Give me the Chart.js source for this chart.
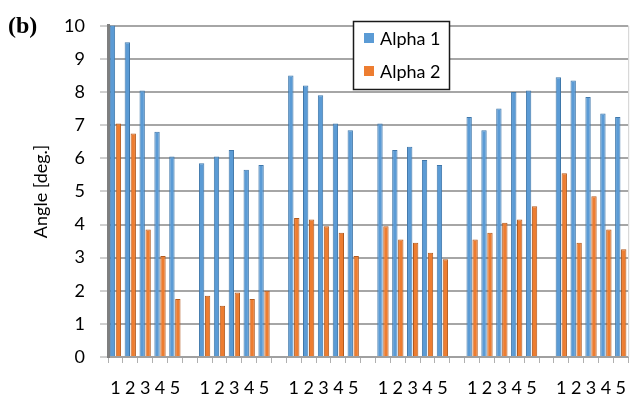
<!DOCTYPE html>
<html>
<head>
<meta charset="utf-8">
<script src="https://cdn.jsdelivr.net/npm/chart.js@4.4.1/dist/chart.umd.min.js"></script>
<style>
  html, body { margin: 0; padding: 0; background: #fff; }
  #wrap { width: 640px; height: 400px; }
</style>
</head>
<body>
<div id="wrap"><canvas id="myAngleChart" width="640" height="400"></canvas></div>
<script>
// tick labels under each group, and the groups
const groupTicks = ['1', '2', '3', '4', '5'];
const groupCount = 6;

// values, group by group
const alpha1 = [10.05, 9.5, 8.05, 6.8, 6.05,
                5.85, 6.05, 6.25, 5.65, 5.8,
                8.5, 8.2, 7.9, 7.05, 6.85,
                7.05, 6.25, 6.35, 5.95, 5.8,
                7.25, 6.85, 7.5, 8.0, 8.05,
                8.45, 8.35, 7.85, 7.35, 7.25];
const alpha2 = [7.05, 6.75, 3.85, 3.05, 1.75,
                1.85, 1.55, 1.95, 1.75, 2.0,
                4.2, 4.15, 3.95, 3.75, 3.05,
                3.95, 3.55, 3.45, 3.15, 2.95,
                3.55, 3.75, 4.05, 4.15, 4.55,
                5.55, 3.45, 4.85, 3.85, 3.25];

const yTicks = [0, 1, 2, 3, 4, 5, 6, 7, 8, 9, 10];

// one empty slot between groups
var labels = [];
var data1 = [];
var data2 = [];
for (var g = 0; g < groupCount; g++) {
  if (g > 0) {
    labels.push('');
    data1.push(null);
    data2.push(null);
  }
  for (var i = 0; i < groupTicks.length; i++) {
    labels.push(groupTicks[i]);
    data1.push(alpha1[g * 5 + i]);
    data2.push(alpha2[g * 5 + i]);
  }
}

var fontFam = 'Lato, "Open Sans", sans-serif';

// legend box and the "(b)" tag
const extras = {
  id: 'extras',
  afterDraw(chart) {
    var c = chart.ctx;
    c.save();
    c.fillStyle = '#000';
    c.font = 'bold 24px "Liberation Serif", serif';
    c.textBaseline = 'alphabetic';
    c.textAlign = 'left';
    c.fillText('(b)', 8, 33);

    var bx = 353, by = 21, bw = 96, bh = 68;
    c.fillStyle = '#fff';
    c.fillRect(bx, by, bw, bh);
    c.strokeStyle = '#1a1a1a';
    c.lineWidth = 1.5;
    c.strokeRect(bx + 0.5, by + 0.5, bw, bh);
    c.font = '18px ' + fontFam;
    c.textBaseline = 'middle';
    chart.data.datasets.forEach(function (ds, k) {
      var cy = 38 + k * 33;
      c.fillStyle = ds.backgroundColor;
      c.fillRect(364, cy - 5, 10, 10);
      c.fillStyle = '#000';
      c.fillText(ds.label, 380, cy + 1);
    });
    // faint right edge
    var a = chart.chartArea;
    c.strokeStyle = '#d0d0d0';
    c.lineWidth = 1;
    c.beginPath();
    c.moveTo(a.right + 0.5, a.top);
    c.lineTo(a.right + 0.5, a.bottom);
    c.stroke();
    c.restore();
  }
};

var ctx = document.getElementById('myAngleChart');
var myAngleChart = new Chart(ctx, {
  type: 'bar',
  data: {
    labels: labels,
    datasets: [
      {
        label: 'Alpha 1',
        data: data1,
        backgroundColor: '#5b9bd5',
        borderColor: '#3f77aa',
        borderWidth: 1
      },
      {
        label: 'Alpha 2',
        data: data2,
        backgroundColor: '#ed7d31',
        borderColor: '#b35a1d',
        borderWidth: 1
      }
    ]
  },
  options: {
    responsive: false,
    animation: false,
    layout: { padding: { top: 13, right: 2, left: 0, bottom: 0 } },
    datasets: {
      bar: { categoryPercentage: 0.8, barPercentage: 0.9, skipNull: false }
    },
    plugins: {
      legend: { display: false },
      tooltip: { enabled: false }
    },
    scales: {
      x: {
        offset: true,
        grid: {
          offset: true,
          drawOnChartArea: false,
          drawTicks: true,
          tickLength: 6,
          color: '#b0b0b0'
        },
        border: { display: true, color: '#a0a0a0', width: 2 },
        ticks: {
          autoSkip: false,
          maxRotation: 0,
          padding: 14,
          color: '#000',
          font: { family: fontFam, size: 18 }
        },
        afterFit: function (s) { s.height = 43; }
      },
      y: {
        min: 0,
        max: 10,
        afterBuildTicks: function (s) {
          s.ticks = yTicks.map(function (v) { return { value: v }; });
        },
        grid: {
          color: '#a6a6a6',
          lineWidth: 2,
          tickLength: 8,
          tickColor: '#a0a0a0',
          tickWidth: 1
        },
        border: { display: true, color: '#7f7f7f', width: 3 },
        ticks: {
          padding: 15,
          color: '#000',
          font: { family: fontFam, size: 18 }
        },
        title: {
          display: true,
          text: 'Angle [deg.]',
          color: '#000',
          font: { family: fontFam, size: 18 },
          padding: { top: 30, bottom: 0 }
        },
        afterFit: function (s) { s.width = 108; }
      }
    }
  },
  plugins: [extras]
});
</script>
</body>
</html>
